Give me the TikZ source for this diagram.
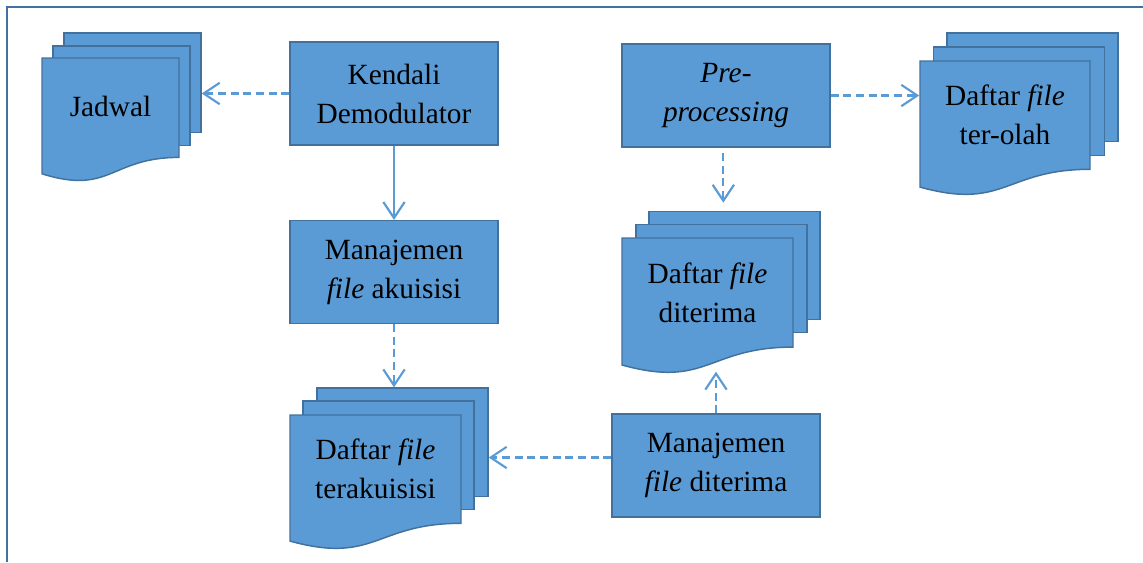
\documentclass[tikz,border=0pt]{standalone}
\usepackage{fontspec}
\setmainfont{Liberation Serif}
\usetikzlibrary{arrows.meta}
\definecolor{boxfill}{RGB}{91,155,213}
\definecolor{boxline}{RGB}{65,113,156}
\definecolor{framecol}{RGB}{68,114,160}
\tikzset{
  procbox/.style={shape=rectangle,draw=boxline,fill=boxfill,line width=1.1pt,minimum width=156pt,minimum height=77pt,align=center,inner sep=0pt,font=\fontsize{22}{29.25}\selectfont},
  page/.style={shape=rectangle,draw=boxline,fill=boxfill,line width=1.1pt,inner sep=0pt},
  bigpage/.style={minimum width=128.25pt,minimum height=81.2pt},
  smallpage/.style={minimum width=102.75pt,minimum height=74.5pt},
  pagetext/.style={shape=rectangle,align=center,inner sep=0pt,font=\fontsize{22}{29.25}\selectfont},
  frontpage/.style={draw=boxline,fill=boxfill,line width=1.1pt},
  flow/.style={draw=boxfill,line width=1.6pt,-{Straight Barb[length=12pt,width=16pt]}},
  flowdash/.style={flow,dash pattern=on 6pt off 3.5pt},
}
\begin{document}
\begin{tikzpicture}[x=0.75pt,y=-0.75pt]
\useasboundingbox (0,0) rectangle (1143,562);
\draw[framecol,line width=0.8pt] (7,562) -- (7,7) -- (1143,7);

\node[procbox] (kendali) at (394,93.5) {Kendali\\Demodulator};
\node[procbox] (akuisisi) at (394,272) {Manajemen\\\textit{file} akuisisi};
\node[procbox] (pre) at (726,95.5) {\textit{Pre-}\\\textit{processing}};
\node[procbox] (mditerima) at (716,465.5) {Manajemen\\\textit{file} diterima};

% Jadwal
\node[page,smallpage] (jadwal-back) at (132.5,82.7) {};
\node[page,smallpage] (jadwal-mid) at (121.5,95.7) {};
\draw[frontpage] (42,58) -- (179,58) -- (179,157.4) .. controls (110.5,157.4) and (110.5,195.4) .. (42,173.8) -- cycle;
\node[pagetext,smallpage] (jadwal) at (110.5,106) {Jadwal};

% Daftar file ter-olah
\node[page,bigpage] (terolah-back) at (1032.5,87.2) {};
\node[page,bigpage] (terolah-mid) at (1019,101.2) {};
\draw[frontpage] (920,61) -- (1090,61) -- (1090,169.3) .. controls (1005,169.3) and (1005,210.6) .. (920,187.1) -- cycle;
\node[pagetext,bigpage] (terolah) at (1005,115.2) {Daftar \textit{file}\\ter-olah};

% Daftar file diterima
\node[page,bigpage] (diterima-back) at (734.5,265.5) {};
\node[page,bigpage] (diterima-mid) at (721.5,278.5) {};
\draw[frontpage] (622,238) -- (793,238) -- (793,347.1) .. controls (707.5,347.1) and (707.5,388.7) .. (622,365) -- cycle;
\node[pagetext,bigpage] (diterima) at (707.5,292.5) {Daftar \textit{file}\\diterima};
\coordinate (diterima-wave) at (716,365);

% Daftar file terakuisisi
\node[page,bigpage] (tera-back) at (402.5,442.2) {};
\node[page,bigpage] (tera-mid) at (388.5,455.2) {};
\draw[frontpage] (290,415) -- (461,415) -- (461,523.3) .. controls (375.5,523.3) and (375.5,564.6) .. (290,541.1) -- cycle;
\node[pagetext,bigpage] (tera) at (375.5,469.2) {Daftar \textit{file}\\terakuisisi};

\draw[flowdash] (kendali.west) -- (kendali.west -| jadwal-back.east);
\draw[flow] (kendali.south) -- (akuisisi.north);
\draw[flowdash] (akuisisi.south) -- (akuisisi.south |- tera-back.north);
\draw[flowdash] ([yshift=6pt]mditerima.west) -- ([yshift=6pt]mditerima.west -| tera-back.east);
\draw[flowdash,shorten <=4pt,shorten >=6pt] ([xshift=-2pt]pre.south) -- ([xshift=-2pt]pre.south |- diterima-back.north);
\draw[flowdash,shorten >=5pt] (mditerima.north) -- (diterima-wave);
\draw[flowdash] (pre.east) -- (pre.east -| terolah.west);
\end{tikzpicture}
\end{document}
